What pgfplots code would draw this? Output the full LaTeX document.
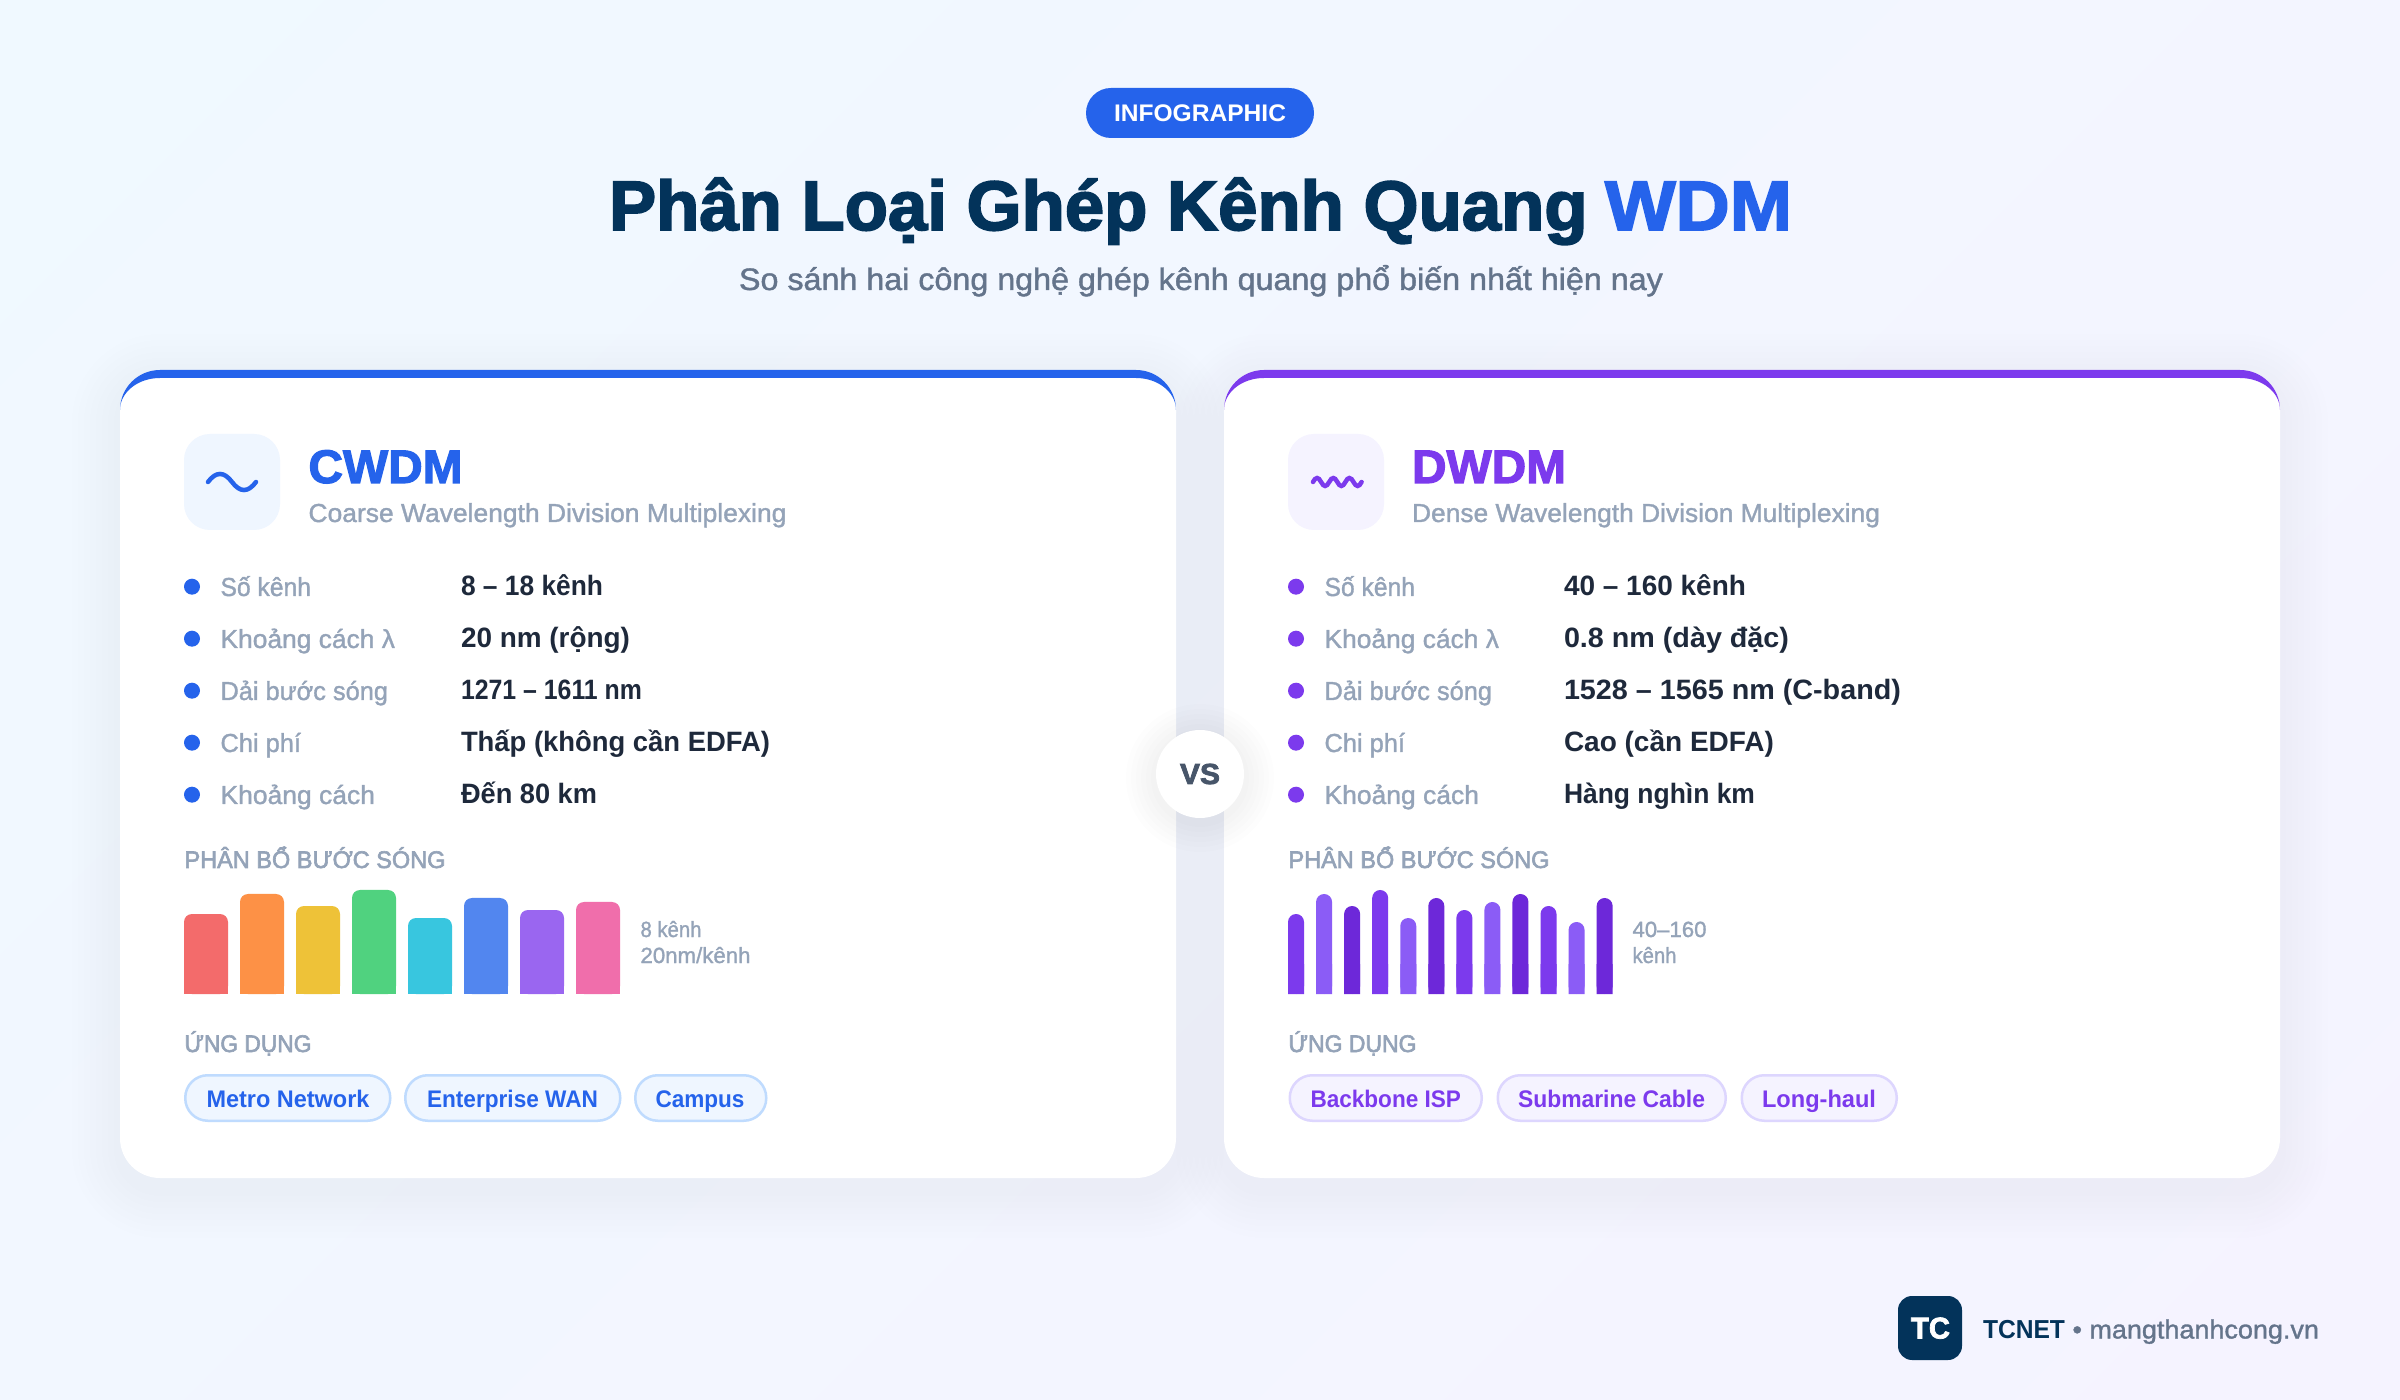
\documentclass[border=0pt]{standalone}
\usepackage{pgfplots}
\pgfplotsset{compat=1.18}
\usepackage{graphicx}
\usepackage{fontspec}
\setmainfont{Liberation Sans}
\newfontfamily\medf[FakeBold=1.3]{Liberation Sans}
\newfontfamily\semf[FakeBold=2.6]{Liberation Sans}
\newfontfamily\hvy[FakeBold=2.5]{Liberation Sans Bold}
\definecolor{bgA}{HTML}{F0F9FF}
\definecolor{bgB}{HTML}{F5F3FF}
\definecolor{navy}{HTML}{03335A}
\definecolor{blue}{HTML}{2563EB}
\definecolor{blueL}{HTML}{EFF6FF}
\definecolor{blueB}{HTML}{BFDBFE}
\definecolor{vio}{HTML}{7C3AED}
\definecolor{vio2}{HTML}{8B5CF6}
\definecolor{vio3}{HTML}{6D28D9}
\definecolor{vioB}{HTML}{DDD6FE}
\definecolor{slateA}{HTML}{64748B}
\definecolor{slateB}{HTML}{94A3B8}
\definecolor{slateC}{HTML}{475569}
\definecolor{ink}{HTML}{1E293B}
\definecolor{cRed}{HTML}{F36B6B}
\definecolor{cOra}{HTML}{FD9146}
\definecolor{cYel}{HTML}{EEC238}
\definecolor{cGre}{HTML}{50D27F}
\definecolor{cCya}{HTML}{38C6DF}
\definecolor{cBlu}{HTML}{5286EF}
\definecolor{cPur}{HTML}{9A66F0}
\definecolor{cPin}{HTML}{F06EAB}
% text: x, baseline, width in px, size in px, colour, font switch, text
\newcommand\T[7]{\node[anchor=base west,inner sep=0pt,outer sep=0pt,text=#5] at (#1,#2)
  {\fontsize{\dimexpr#4pt/2\relax}{\dimexpr#4pt/2\relax}\selectfont\resizebox{\dimexpr#3pt/2\relax}{\height}{#6#7}};}
\newcommand\pill[4]{\draw[fill=#3,draw=#4,line width=1.25pt,rounded corners=11.25pt] (#1+1.25,1075.25) rectangle (#2-1.25,1120.75);}
\newcommand\card[3]{%
  \foreach \s in {1,...,8}{\fill[black,opacity=0.005,rounded corners=20pt+\s*3pt] (#1-\s*6,370-\s*6+12) rectangle (#2+\s*6,1178+\s*6+12);}
  \fill[white,rounded corners=20pt] (#1,370) rectangle (#2,1178);
  \fill[#3] (#1,410) .. controls (#1,387.9) and (#1+17.9,370) .. (#1+40,370) -- (#2-40,370)
     .. controls (#2-17.9,370) and (#2,387.9) .. (#2,410)
     .. controls (#2,392.3) and (#2-17.9,378) .. (#2-40,378) -- (#1+40,378)
     .. controls (#1+17.9,378) and (#1,392.3) .. (#1,410) -- cycle;
}
\pgfplotsset{wavebars/.style={hide axis,scale only axis,clip=true,ymin=0,axis on top=false}}
% a bar with rounded top: rounded full bar, and a square foot of the same datum
\newcommand\rbar[4]{%
  \addplot[ybar,bar width=#1*0.5pt,bar shift=0pt,fill=#3,draw=none,rounded corners=#2*0.5pt,forget plot] coordinates {#4};
  \addplot[ybar,bar width=#1*0.5pt,bar shift=0pt,fill=#3,draw=none,forget plot,y filter/.expression={min(y,30)}] coordinates {#4};
}
\begin{document}
\begin{tikzpicture}[x=0.5pt,y=-0.5pt]
\useasboundingbox (0,0) rectangle (2400,1400);
\begin{scope}
\clip (0,0) rectangle (2400,1400);
\shade[top color=bgA,bottom color=bgB,shading angle=45] (1200-1344,700-1344) rectangle (1200+1344,700+1344);
\end{scope}
% header
\fill[blue,rounded corners=12.5pt] (1086,88) rectangle (1314,138);
\T{1114}{122}{172}{24}{white}{\bfseries}{INFOGRAPHIC}
\T{609}{230}{978.5}{70}{navy}{\hvy}{Phân Loại Ghép Kênh Quang}
\T{1605}{230}{187}{70}{blue}{\hvy}{WDM}
\T{739}{290}{924}{31}{slateA}{\medf}{So sánh hai công nghệ ghép kênh quang phổ biến nhất hiện nay}
% cards
\card{120}{1176}{blue}
\card{1224}{2280}{vio}
% icons
\fill[blueL,rounded corners=13pt] (184,434) rectangle (280,530);
\draw[blue,line width=2.25pt,line cap=round] (208,482) .. controls (216,471.3) and (224,471.3) .. (232,482) .. controls (240,492.7) and (248,492.7) .. (256,482);
\fill[bgB,rounded corners=13pt] (1288,434) rectangle (1384,530);
\draw[vio,line width=2.25pt,line cap=round] (1313,482) .. controls (1315.7,476.7) and (1318.4,476.7) .. (1321.1,482) .. controls (1323.8,487.3) and (1326.5,487.3) .. (1329.2,482) .. controls (1331.9,476.7) and (1334.6,476.7) .. (1337.3,482) .. controls (1340,487.3) and (1342.7,487.3) .. (1345.4,482) .. controls (1348.1,476.7) and (1350.8,476.7) .. (1353.5,482) .. controls (1356.2,487.3) and (1358.9,487.3) .. (1361.6,482);
% card titles
\T{308.5}{483}{154}{47}{blue}{\hvy}{CWDM}
\T{1412}{483}{154}{47}{vio}{\hvy}{DWDM}
\T{308.5}{522}{478}{26}{slateB}{\medf}{Coarse Wavelength Division Multiplexing}
\T{1412}{522}{468}{26}{slateB}{\medf}{Dense Wavelength Division Multiplexing}
% rows
\foreach \yy in {586.7,638.7,690.7,742.7,794.7}{\fill[blue] (192,\yy) circle[radius=8]; \fill[vio] (1296,\yy) circle[radius=8];}
\T{220.5}{596}{90.5}{26}{slateB}{\medf}{Số kênh}
\T{220.5}{648}{174.5}{26}{slateB}{\medf}{Khoảng cách λ}
\T{220.5}{700}{167.5}{26}{slateB}{\medf}{Dải bước sóng}
\T{220.5}{752}{80.5}{26}{slateB}{\medf}{Chi phí}
\T{220.5}{804}{154.5}{26}{slateB}{\medf}{Khoảng cách}
\T{461}{596}{142}{28}{ink}{\bfseries}{8 – 18 kênh}
\T{461}{648}{169}{28}{ink}{\bfseries}{20 nm (rộng)}
\T{461}{700}{181}{28}{ink}{\bfseries}{1271 – 1611 nm}
\T{461}{752}{309}{28}{ink}{\bfseries}{Thấp (không cần EDFA)}
\T{461}{804}{136}{28}{ink}{\bfseries}{Đến 80 km}
\T{1324.5}{596}{90.5}{26}{slateB}{\medf}{Số kênh}
\T{1324.5}{648}{174.5}{26}{slateB}{\medf}{Khoảng cách λ}
\T{1324.5}{700}{167.5}{26}{slateB}{\medf}{Dải bước sóng}
\T{1324.5}{752}{80.5}{26}{slateB}{\medf}{Chi phí}
\T{1324.5}{804}{154.5}{26}{slateB}{\medf}{Khoảng cách}
\T{1564}{596}{182}{28}{ink}{\bfseries}{40 – 160 kênh}
\T{1564}{648}{225}{28}{ink}{\bfseries}{0.8 nm (dày đặc)}
\T{1564}{700}{337}{28}{ink}{\bfseries}{1528 – 1565 nm (C-band)}
\T{1564}{752}{210}{28}{ink}{\bfseries}{Cao (cần EDFA)}
\T{1564}{804}{191}{28}{ink}{\bfseries}{Hàng nghìn km}
% sections
\T{184.5}{868}{261}{24}{slateB}{\semf}{PHÂN BỔ BƯỚC SÓNG}
\T{1288.5}{868}{261}{24}{slateB}{\semf}{PHÂN BỔ BƯỚC SÓNG}
\T{184.5}{1052}{127}{24}{slateB}{\semf}{ỨNG DỤNG}
\T{1288.5}{1052}{128}{24}{slateB}{\semf}{ỨNG DỤNG}
\T{640.5}{937}{61}{22}{slateB}{\medf}{8 kênh}
\T{640.5}{963}{110}{22}{slateB}{\medf}{20nm/kênh}
\T{1632.5}{937}{74}{22}{slateB}{\medf}{40–160}
\T{1632.5}{963}{44}{22}{slateB}{\medf}{kênh}
% bars CWDM: x in px, y = bar height in px
\begin{axis}[wavebars,at={(92pt,-497pt)},anchor=south west,width=218pt,height=55pt,xmin=184,xmax=620,ymax=110]
\rbar{44}{8}{cRed}{(206,80)}
\rbar{44}{8}{cOra}{(262,100)}
\rbar{44}{8}{cYel}{(318,88)}
\rbar{44}{8}{cGre}{(374,104)}
\rbar{44}{8}{cCya}{(430,76)}
\rbar{44}{8}{cBlu}{(486,96)}
\rbar{44}{8}{cPur}{(542,84)}
\rbar{44}{8}{cPin}{(598,92)}
\end{axis}
% bars DWDM
\begin{axis}[wavebars,at={(644pt,-497pt)},anchor=south west,width=162pt,height=55pt,xmin=1288,xmax=1612,ymax=110]
\rbar{16}{8}{vio}{(1296,80) (1380,104) (1464,84) (1548,88)}
\rbar{16}{8}{vio2}{(1324,100) (1408,76) (1492,92) (1576,72)}
\rbar{16}{8}{vio3}{(1352,88) (1436,96) (1520,100) (1604,96)}
\end{axis}
% pills
\pill{184}{391.5}{blueL}{blueB}
\pill{404}{621.5}{blueL}{blueB}
\pill{634}{767.5}{blueL}{blueB}
\T{206.5}{1107}{163}{24}{blue}{\bfseries}{Metro Network}
\T{427}{1107}{171}{24}{blue}{\bfseries}{Enterprise WAN}
\T{655.5}{1107}{89}{24}{blue}{\bfseries}{Campus}
\pill{1288.5}{1483}{bgB}{vioB}
\pill{1496.5}{1727}{bgB}{vioB}
\pill{1740.5}{1898}{bgB}{vioB}
\T{1310.5}{1107}{150.5}{24}{vio}{\bfseries}{Backbone ISP}
\T{1518}{1107}{187}{24}{vio}{\bfseries}{Submarine Cable}
\T{1762}{1107}{114}{24}{vio}{\bfseries}{Long-haul}
% VS
\foreach \s in {1,...,6}{\fill[black,opacity=0.006] (1200,778) circle[radius=44+\s*5];}
\fill[white] (1200,774) circle[radius=44];
\T{1180}{784}{40}{29}{slateC}{\hvy}{VS}
% footer
\fill[navy,rounded corners=7pt] (1898,1296) rectangle (1962,1360);
\T{1911}{1338.5}{39}{30}{white}{\hvy}{TC}
\T{1983}{1338.5}{82}{26}{navy}{\bfseries}{TCNET}
\T{2072.5}{1338.5}{246.5}{26}{slateA}{\medf}{• mangthanhcong.vn}
\end{tikzpicture}
\end{document}
